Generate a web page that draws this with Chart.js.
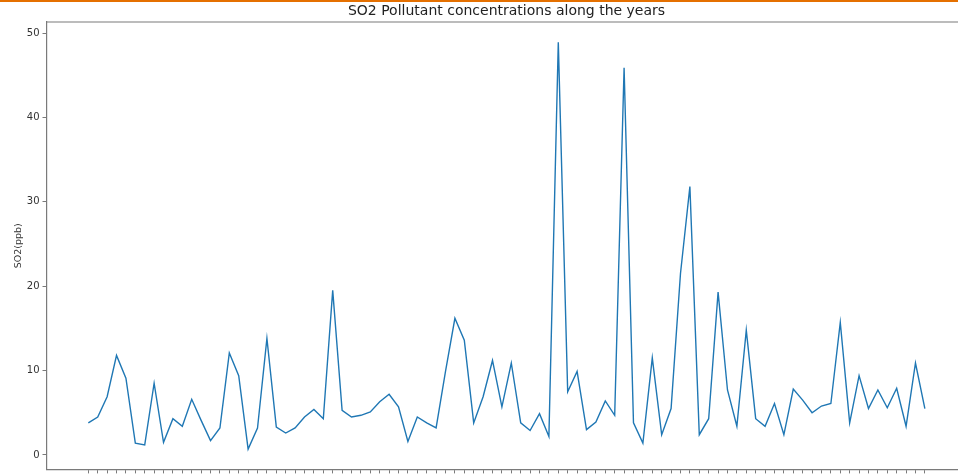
<!DOCTYPE html>
<html>
<head>
<meta charset="utf-8">
<title>SO2 Pollutant concentrations</title>
<script src="https://cdn.jsdelivr.net/npm/chart.js@4.4.1/dist/chart.umd.min.js"></script>
<style>
    html, body { margin: 0; padding: 0; background: #fff; overflow: hidden; }
    .top-bar { position: absolute; left: 0; top: 0; width: 100%; height: 2px; background: #e57000; }
    #so2Chart { display: block; }
</style>
</head>
<body>
<div class="top-bar"></div>
<canvas id="so2Chart" width="1013" height="474"></canvas>
<script>
// SO2 readings (ppb), one per sample in order
const so2Values = [
    3.8, 4.5, 6.9, 11.8, 9.1, 1.4, 1.2, 8.5, 1.5, 4.3,
    3.4, 6.6, 4.1, 1.7, 3.2, 12.1, 9.4, 0.7, 3.2, 13.8,
    3.3, 2.6, 3.2, 4.5, 5.4, 4.3, 19.5, 5.3, 4.5, 4.7,
    5.1, 6.3, 7.2, 5.7, 1.6, 4.5, 3.8, 3.2, 9.9, 16.2,
    13.6, 3.8, 6.9, 11.2, 5.7, 10.9, 3.8, 2.9, 4.9, 2.2,
    48.9, 7.5, 9.9, 3.0, 3.9, 6.4, 4.7, 45.9, 3.8, 1.4,
    11.5, 2.4, 5.5, 21.5, 31.8, 2.4, 4.3, 19.3, 7.7, 3.4,
    14.8, 4.3, 3.4, 6.1, 2.4, 7.8, 6.5, 5.0, 5.8, 6.1,
    15.7, 3.8, 9.4, 5.5, 7.7, 5.6, 7.9, 3.4, 10.9, 5.5
];
const sampleIndex = so2Values.map((_, i) => i);
const yTickValues = [0, 10, 20, 30, 40, 50];

const chartTitle = 'SO2 Pollutant concentrations along the years';
const yAxisLabel = 'SO2(ppb)';

// matplotlib-like 5% margins around the data
const xPad = (sampleIndex.length - 1) * 0.05;
const yMin = Math.min(...so2Values);
const yMax = Math.max(...so2Values);
const yPad = (yMax - yMin) * 0.05;

const spineColor = '#7a7a7a';

// draws the top and right spines around the plot area
const frameBox = {
    id: 'frameBox',
    afterDraw(chart) {
        const { ctx, chartArea: a } = chart;
        ctx.save();
        ctx.strokeStyle = spineColor;
        ctx.lineWidth = 1.2;
        ctx.beginPath();
        ctx.moveTo(a.left, a.top);
        ctx.lineTo(a.right, a.top);
        ctx.lineTo(a.right, a.bottom);
        ctx.stroke();
        ctx.restore();
    }
};

new Chart(document.getElementById('so2Chart'), {
    type: 'line',
    data: {
        datasets: [{
            label: 'SO2',
            data: sampleIndex.map(i => ({ x: i, y: so2Values[i] })),
            borderColor: '#1f77b4',
            borderWidth: 1.4,
            pointRadius: 0,
            tension: 0,
            fill: false
        }]
    },
    options: {
        responsive: false,
        animation: false,
        events: [],
        layout: { padding: 0 },
        plugins: {
            legend: { display: false },
            tooltip: { enabled: false },
            title: {
                display: true,
                text: chartTitle,
                color: '#222',
                font: { family: 'DejaVu Sans', size: 14, weight: 'normal', lineHeight: 1.2 },
                padding: { top: 3, bottom: 2.2 }
            }
        },
        scales: {
            x: {
                type: 'linear',
                min: -xPad,
                max: sampleIndex.length - 1 + xPad,
                afterBuildTicks: s => { s.ticks = sampleIndex.map(v => ({ value: v })); },
                afterFit: s => { s.height = 4.6; s.paddingLeft = 0; s.paddingRight = 0; },
                ticks: { display: false },
                grid: { drawOnChartArea: false, drawTicks: true, tickLength: 4, color: spineColor, lineWidth: 1 },
                border: { display: true, color: spineColor, width: 1.2 }
            },
            y: {
                type: 'linear',
                min: yMin - yPad,
                max: yMax + yPad,
                afterBuildTicks: s => { s.ticks = yTickValues.map(v => ({ value: v })); },
                afterFit: s => { s.width = 46.5; s.paddingTop = 0; s.paddingBottom = 0; },
                ticks: {
                    color: '#333',
                    padding: 3,
                    font: { family: 'DejaVu Sans', size: 10 },
                    callback: v => v
                },
                grid: { drawOnChartArea: false, drawTicks: true, tickLength: 4, color: spineColor, lineWidth: 1 },
                border: { display: true, color: spineColor, width: 1.2 },
                title: {
                    display: true,
                    text: yAxisLabel,
                    color: '#333',
                    font: { family: 'DejaVu Sans', size: 9.5 },
                    padding: { top: 13, bottom: 0 }
                }
            },
            // empty right-hand box so the title centres over the plot area
            yRight: {
                type: 'linear',
                position: 'right',
                display: true,
                min: 0,
                max: 1,
                afterBuildTicks: s => { s.ticks = []; },
                afterFit: s => { s.width = 46.3; s.paddingTop = 0; s.paddingBottom = 0; },
                ticks: { display: false },
                grid: { display: false },
                border: { display: false }
            }
        }
    },
    plugins: [frameBox]
});
</script>
</body>
</html>
